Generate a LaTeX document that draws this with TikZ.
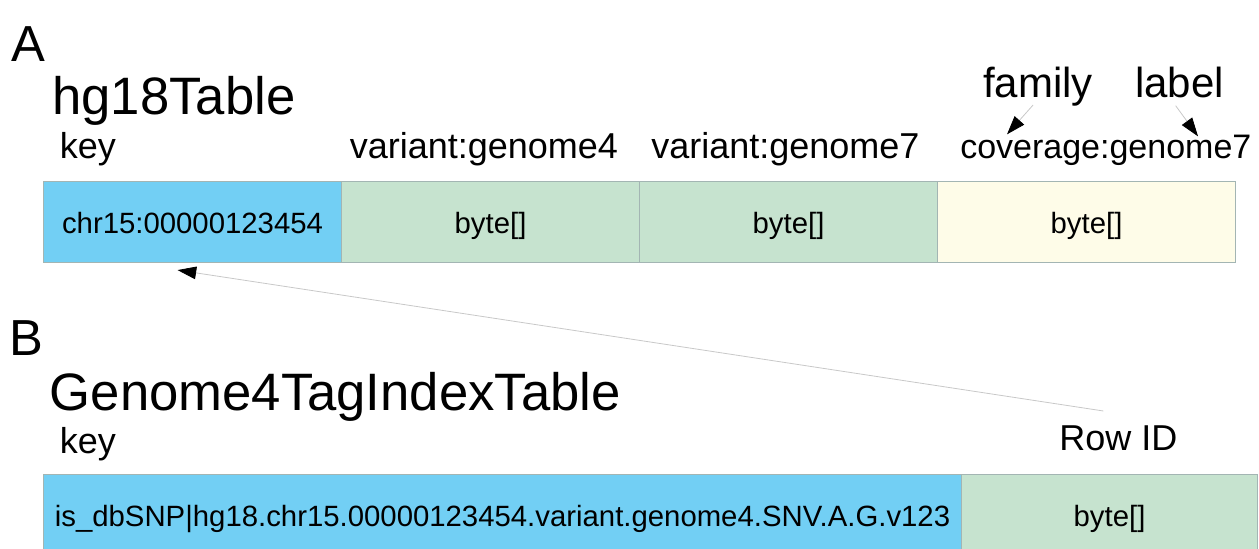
\documentclass[tikz,border=0pt]{standalone}
\usepackage{fontspec}
\setmainfont{Liberation Sans}
\usetikzlibrary{arrows.meta, positioning, calc}
\definecolor{keyblue}{HTML}{72CFF4}
\definecolor{datagreen}{HTML}{C6E3CF}
\definecolor{covyellow}{HTML}{FEFCE8}
\definecolor{cellline}{HTML}{A3B5B3}
\definecolor{ptrgray}{HTML}{C8C8C8}

\begin{document}
\begin{tikzpicture}[x=0.75pt, y=-0.75pt,
    cell/.style={draw=cellline, line width=0.8pt, minimum width=223.5pt, minimum height=60.75pt,
                 inner sep=0pt, text height=19pt, text depth=1.75pt,
                 font=\fontsize{22}{26}\selectfont},
    txt/.style={inner sep=0pt, anchor=base west},
    panel/.style={txt, font=\fontsize{38}{44}\selectfont},
    title/.style={txt, font=\fontsize{39.5}{45}\selectfont},
    colhead/.style={txt, font=\fontsize{27}{31}\selectfont},
    tag/.style={txt, font=\fontsize{31.5}{36}\selectfont},
    ptr/.style={draw=ptrgray, line width=0.6pt, -{Triangle[length=14pt, width=9.5pt, color=black]}}
  ]
    \clip (0,0) rectangle (1259,549);

    % Table A: hg18Table
    \node[panel] (panelA) at (11,62) {A};
    \node[title] (hgtitle) at (52,115) {hg18Table};
    \node[tag] (family) at (983,98) {family};
    \node[tag] (label) at (1135,98) {label};
    \node[colhead] (hgkeyhdr) at (59.5,158) {key};
    \node[colhead] (var4hdr) at (349.5,158) {variant:genome4};
    \node[colhead] (var7hdr) at (651,158) {variant:genome7};
    \node[colhead, font=\fontsize{25.5}{30}\selectfont] (covhdr) at (960,158) {coverage:genome7};

    \node[cell, fill=keyblue, anchor=north west] (hgkey) at (43,181) {chr15:00000123454};
    \node[cell, fill=datagreen, right=-0.8pt of hgkey] (var4) {byte[]};
    \node[cell, fill=datagreen, right=-0.8pt of var4] (var7) {byte[]};
    \node[cell, fill=covyellow, right=-0.8pt of var7] (cov) {byte[]};

    % Table B: tag index
    \node[panel] (panelB) at (9,355) {B};
    \node[title] (idxtitle) at (49.5,410) {Genome4TagIndexTable};
    \node[colhead] (idxkeyhdr) at (59.5,453) {key};
    \node[colhead] (rowid) at (1059,450) {Row ID};

    \node[cell, fill=keyblue, minimum width=688.5pt, anchor=north west] (idxkey) at (43,474)
      {is\_dbSNP|hg18.chr15.00000123454.variant.genome4.SNV.A.G.v123};
    \node[cell, fill=datagreen, minimum width=222pt, right=-0.8pt of idxkey] (idxval) {byte[]};

    % Pointers
    \coordinate (famtip) at ($(covhdr.north west)+(47,0)$);
    \coordinate (labtip) at ($(covhdr.north west)+(238,2)$);
    \coordinate (rowtip) at ($(hgkey.south)+(-15,7)$);
    \draw[ptr] ($(family.south)+(-5,-2)$) -- (famtip);
    \draw[ptr] ($(label.south)+(-4,7)$) -- (labtip);
    \draw[ptr] ($(rowid.north)+(-15,-14)$) -- (rowtip);
  \end{tikzpicture}
\end{document}
